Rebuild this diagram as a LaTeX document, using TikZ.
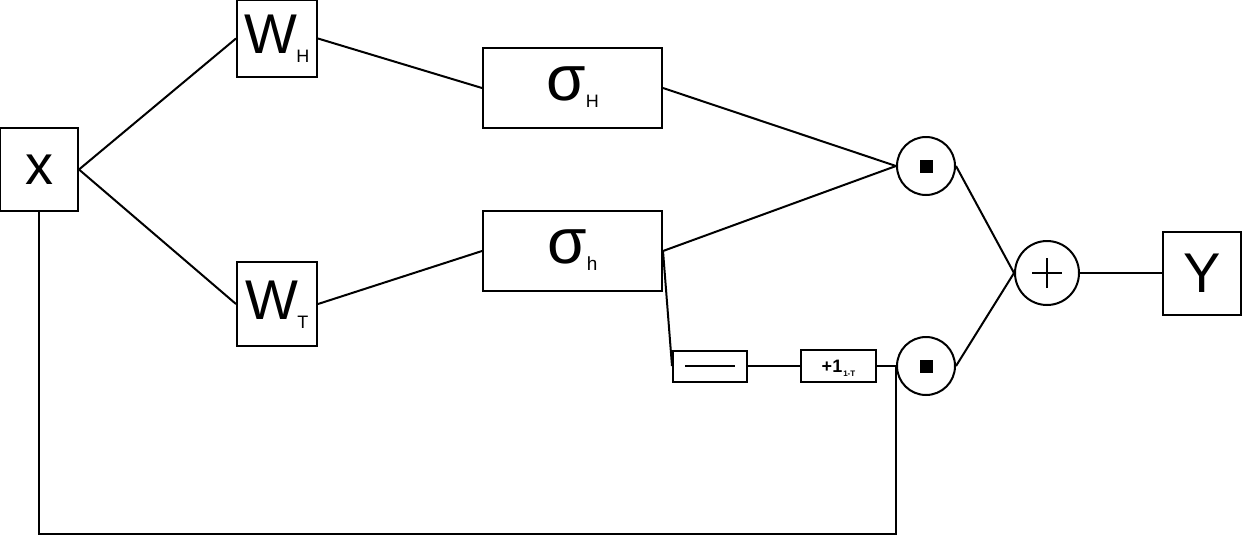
\documentclass[tikz,border=0pt]{standalone}
\usepackage{fontspec}
\setmainfont{Liberation Sans}
\begin{document}
\newcommand{\fs}[1]{\fontsize{#1}{#1}\selectfont}
% lowered subscript that does not change the size of the label
\newcommand{\subl}[3]{\raisebox{-#2pt}[0pt][0pt]{\fs{#1}#3}}
% lift a label without changing its size
\newcommand{\lift}[2]{\raisebox{#1pt}[\height][\depth]{#2}}
\begin{tikzpicture}[x=1pt,y=-1pt,
  line width=2pt,
  box/.style={draw,rectangle,inner sep=0pt,line width=2pt,
    minimum width=#1},
  opc/.style={draw,circle,inner sep=0pt,minimum size=58pt,line width=2pt},
  wire/.style={line width=2pt}]
  \useasboundingbox (0,0) rectangle (1242,536);

  % blocks
  \node[box=78pt,minimum height=83pt] (x) at (39,169.5)
    {\fs{56}x};
  \node[box=80pt,minimum height=77pt] (wh) at (277,38.5)
    {\lift{4}{\fs{56}W\kern-1pt\subl{18}{9}{H}}};
  \node[box=80pt,minimum height=84pt] (wt) at (277,304)
    {\lift{4}{\fs{56}W\kern-1pt\subl{18}{9}{T}}};
  \node[box=179pt,minimum height=80pt] (sH) at (572.5,88)
    {\lift{4}{\fs{64}σ\kern0pt\subl{18}{7}{H}}};
  \node[box=179pt,minimum height=80pt] (sh) at (572.5,251)
    {\lift{4}{\fs{64}σ\kern0pt\subl{19}{7}{h}}};
  \node[box=74pt,minimum height=31pt] (neg) at (710,366) {};
  \draw[wire] ([xshift=13pt]neg.west) -- ([xshift=-13pt]neg.east);
  \node[box=75pt,minimum height=32pt] (one) at (838.5,366)
    {\bfseries\fs{18}+1\kern1pt\subl{8}{4}{1-T}};
  \node[box=78pt,minimum height=83pt] (y) at (1202,273)
    {\fs{56}Y};

  % operators
  \node[opc] (m1) at (926,166) {};
  \fill (m1.center) ++(-6.5,-6.5) rectangle ++(13,13);
  \node[opc] (m2) at (926,366) {};
  \fill (m2.center) ++(-6.5,-6.5) rectangle ++(13,13);
  \node[opc,minimum size=64pt] (add) at (1047,273) {};
  \draw[line width=1.4pt] ([xshift=-15pt]add.center) -- ([xshift=15pt]add.center)
    ([yshift=-15pt]add.center) -- ([yshift=15pt]add.center);

  % connectors
  \draw[wire] (x.east) -- (wh.west);
  \draw[wire] (x.east) -- (wt.west);
  \draw[wire] (wh.east) -- (sH.west);
  \draw[wire] (wt.east) -- (sh.west);
  \draw[wire] (sH.east) -- (m1.west);
  \draw[wire] (sh.east) -- (m1.west);
  \draw[wire] (sh.east) -- (neg.west);
  \draw[wire] (neg.east) -- (one.west);
  \draw[wire] (one.east) -- (m2.west);
  \draw[wire] (m1.east) -- (add.west);
  \draw[wire] (m2.east) -- (add.west);
  \draw[wire] (add.east) -- (y.west);
  \coordinate (base) at (0,534);
  \draw[wire] (x.south) -- (x.south |- base) -- (m2.west |- base) -- (m2.west);
\end{tikzpicture}
\end{document}
